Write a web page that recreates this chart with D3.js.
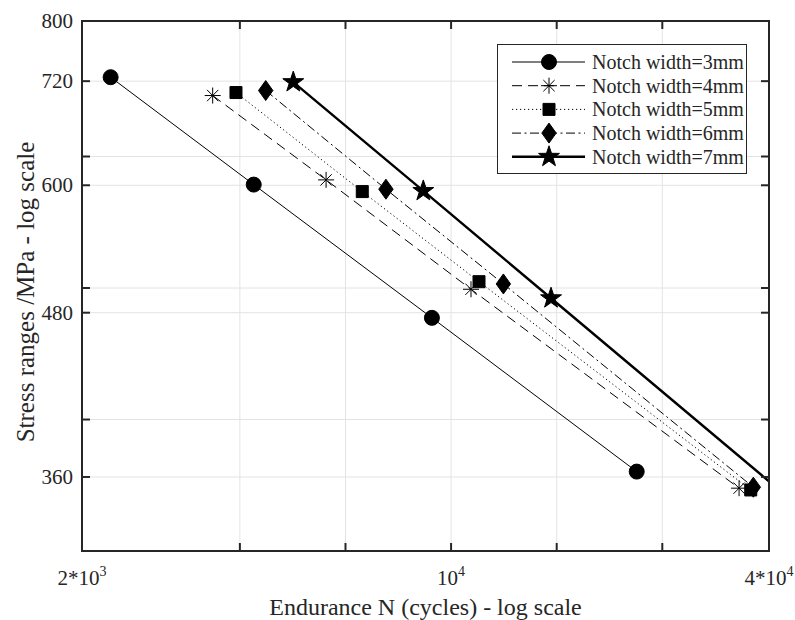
<!DOCTYPE html>
<html>
<head>
	<meta charset="utf-8">
	<title>S-N curves, notch width</title>
	<script src="https://d3js.org/d3.v7.min.js"></script>
	<style>
		body { margin: 0; background: #fff; }
		svg text { font-family: "Times New Roman", "Liberation Serif", serif; fill: #262626; }
	</style>
</head>
<body>
<svg id="chart" width="795" height="620"></svg>
<script type="text/javascript">

// values (cycles, MPa)
var seriesNames = ["Notch width=3mm", "Notch width=4mm", "Notch width=5mm", "Notch width=6mm", "Notch width=7mm"];
var n3 = [2266, 4229, 9198, 22466],  s3 = [725, 600.7, 475.7, 363.4];
var n4 = [3536, 5798, 10907, 35105], s4 = [702.1, 605.7, 500.1, 353.0];
var n5 = [3914, 6789, 11295, 36936], s5 = [705.8, 593.4, 506.8, 351.9];
var n6 = [4456, 7527, 12561, 37358], s6 = [708.3, 595.9, 504.8, 353.6];
var n7 = [5025, 8859, 15463, 41800], s7 = [718.8, 594.1, 492.3, 352.0];

// ticks: 0.2 decade on x, labels only at ends and 10^4
var xTicks = [2000, 3981, 6310, 10000, 15849, 25119, 40000];
var xLabels = [[2000, "2*10", "3"], [10000, "10", "4"], [40000, "4*10", "4"]];
var yTicks = [360, 398.1, 480, 501.2, 600, 631, 720];
var yLabels = [360, 480, 600, 720, 800];

// plot box (note: "top" is taken by window.top)
var boxL = 82, boxR = 769, boxT = 21, boxB = 551;

var svg = d3.select("#chart");

var x = d3.scaleLog().domain([2000, 40000]).range([boxL, boxR]);
var y = d3.scaleLog().domain([Math.pow(10, 2.5), 800]).range([boxB, boxT]);

/* grid */
var grid = svg.append("g").attr("stroke", "#e3e3e3").attr("stroke-width", 1);
grid.selectAll(".gx").data(xTicks.slice(1, -1)).enter().append("line")
	.attr("x1", function(d) { return x(d); }).attr("x2", function(d) { return x(d); })
	.attr("y1", boxT).attr("y2", boxB);
grid.selectAll(".gy").data(yTicks).enter().append("line")
	.attr("y1", function(d) { return y(d); }).attr("y2", function(d) { return y(d); })
	.attr("x1", boxL).attr("x2", boxR);

/* data */
svg.append("clipPath").attr("id", "plotclip").append("rect")
	.attr("x", boxL).attr("y", boxT).attr("width", boxR - boxL).attr("height", boxB - boxT);

var styles = [
	{ w: 1, dash: null, sym: "circle" },
	{ w: 1, dash: "10,6", sym: "asterisk" },
	{ w: 1, dash: "1.2,2.8", sym: "square" },
	{ w: 1, dash: "9,3.5,2,3.5", sym: "diamond" },
	{ w: 2.4, dash: null, sym: "star" }
];
var allN = [n3, n4, n5, n6, n7], allS = [s3, s4, s5, s6, s7];
var series = seriesNames.map(function(name, i) {
	return { name: name, style: styles[i], pts: allN[i].map(function(n, j) { return [n, allS[i][j]]; }) };
});

function markerPath(sym) {
	var p = d3.path(), k;
	if (sym == "circle") { p.arc(0, 0, 7.5, 0, 2 * Math.PI); }
	if (sym == "square") { p.rect(-6, -6, 12, 12); }
	if (sym == "diamond") { p.moveTo(0, -10); p.lineTo(7.2, 0); p.lineTo(0, 10); p.lineTo(-7.2, 0); p.closePath(); }
	if (sym == "asterisk") {
		for (k = 0; k < 4; k++) {
			var a = k * Math.PI / 4;
			p.moveTo(-8 * Math.cos(a), -8 * Math.sin(a)); p.lineTo(8 * Math.cos(a), 8 * Math.sin(a));
		}
	}
	if (sym == "star") {
		for (k = 0; k < 10; k++) {
			var r = k % 2 ? 4.3 : 11, b = -Math.PI / 2 + k * Math.PI / 5;
			if (k == 0) p.moveTo(r * Math.cos(b), r * Math.sin(b)); else p.lineTo(r * Math.cos(b), r * Math.sin(b));
		}
		p.closePath();
	}
	return p.toString();
}

var line = d3.line().x(function(d) { return x(d[0]); }).y(function(d) { return y(d[1]); });

var plot = svg.append("g").attr("clip-path", "url(#plotclip)");
var sg = plot.selectAll(".series").data(series).enter().append("g");
sg.append("path")
	.attr("d", function(d) { return line(d.pts); })
	.attr("fill", "none").attr("stroke", "#000")
	.attr("stroke-width", function(d) { return d.style.w; })
	.attr("stroke-dasharray", function(d) { return d.style.dash; });
sg.each(function(d) {
	d3.select(this).selectAll(".m").data(d.pts).enter().append("path")
		.attr("transform", function(p) { return "translate(" + x(p[0]) + "," + y(p[1]) + ")"; })
		.attr("d", markerPath(d.style.sym))
		.attr("fill", d.style.sym == "asterisk" ? "none" : "#000")
		.attr("stroke", "#000").attr("stroke-width", 1);
});

/* axes box and inward ticks */
var ax = svg.append("g").attr("stroke", "#262626");
ax.append("rect").attr("x", boxL).attr("y", boxT).attr("width", boxR - boxL).attr("height", boxB - boxT)
	.attr("fill", "none").attr("stroke-width", 2);
xTicks.slice(1, -1).forEach(function(d) {
	ax.append("line").attr("x1", x(d)).attr("x2", x(d)).attr("y1", boxB).attr("y2", boxB - 8).attr("stroke-width", 2);
	ax.append("line").attr("x1", x(d)).attr("x2", x(d)).attr("y1", boxT).attr("y2", boxT + 8).attr("stroke-width", 2);
});
yTicks.forEach(function(d) {
	ax.append("line").attr("y1", y(d)).attr("y2", y(d)).attr("x1", boxL).attr("x2", boxL + 8).attr("stroke-width", 2);
	ax.append("line").attr("y1", y(d)).attr("y2", y(d)).attr("x1", boxR).attr("x2", boxR - 8).attr("stroke-width", 2);
});

/* tick labels */
svg.selectAll(".yl").data(yLabels).enter().append("text")
	.attr("x", 73).attr("y", function(d) { return y(d) + 7; })
	.attr("text-anchor", "end").attr("font-size", 21)
	.text(function(d) { return d; });

xLabels.forEach(function(d) {
	var t = svg.append("text").attr("x", x(d[0])).attr("y", 585).attr("text-anchor", "middle").attr("font-size", 21);
	t.append("tspan").text(d[1]);
	t.append("tspan").attr("dy", -9).attr("font-size", 14).text(d[2]);
});

/* axis titles */
svg.append("text").attr("x", (boxL + boxR) / 2).attr("y", 615).attr("text-anchor", "middle")
	.attr("font-size", 24).text("Endurance N (cycles) - log scale");
svg.append("text").attr("transform", "translate(34," + 292 + ") rotate(-90)").attr("text-anchor", "middle")
	.attr("font-size", 25).text("Stress ranges /MPa - log scale");

/* legend */
var lg = svg.append("g");
lg.append("rect").attr("x", 497.5).attr("y", 44.5).attr("width", 249).attr("height", 129)
	.attr("fill", "#fff").attr("stroke", "#262626").attr("stroke-width", 1);
var li = lg.selectAll(".li").data(series).enter().append("g")
	.attr("transform", function(d, i) { return "translate(0," + (62 + i * 23.7) + ")"; });
li.append("line").attr("x1", 512).attr("x2", 585).attr("y1", 0).attr("y2", 0)
	.attr("stroke", "#000")
	.attr("stroke-width", function(d) { return d.style.w; })
	.attr("stroke-dasharray", function(d) { return d.style.dash; });
li.append("path").attr("transform", "translate(549,0)")
	.attr("d", function(d) { return markerPath(d.style.sym); })
	.attr("fill", function(d) { return d.style.sym == "asterisk" ? "none" : "#000"; })
	.attr("stroke", "#000").attr("stroke-width", 1);
li.append("text").attr("x", 592).attr("y", 7).attr("font-size", 20).text(function(d) { return d.name; });

</script>
</body>
</html>
